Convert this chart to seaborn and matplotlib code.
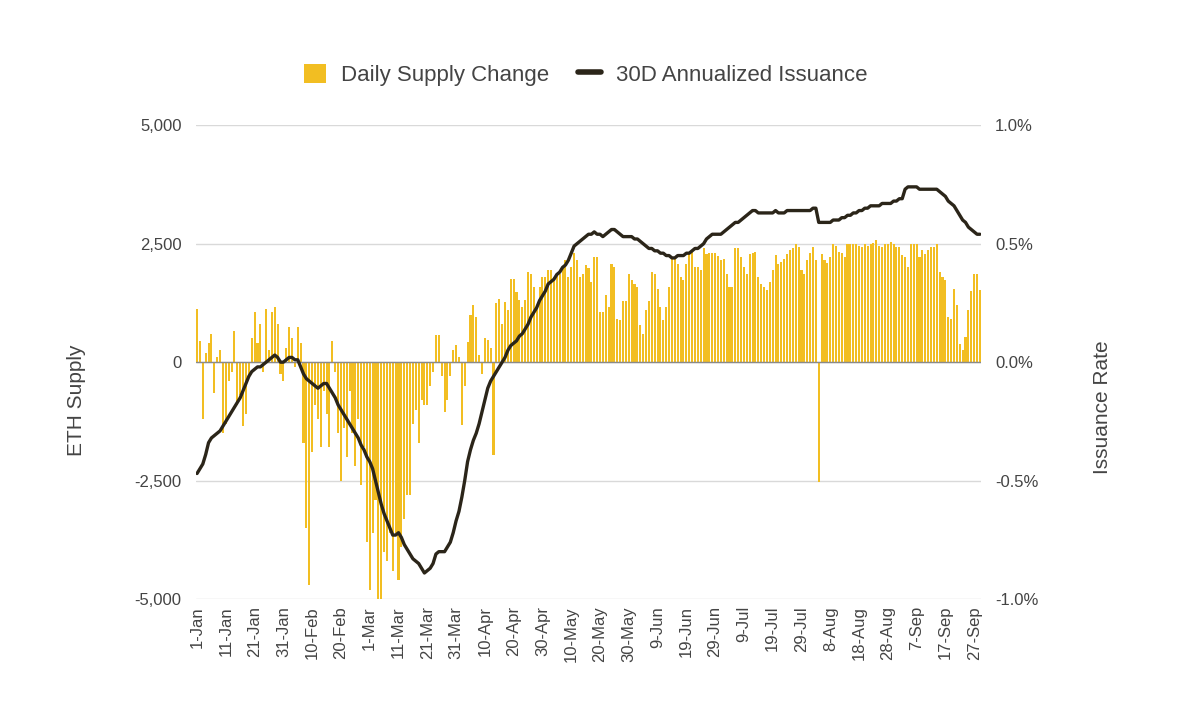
import pandas as pd
import numpy as np
import matplotlib
matplotlib.use("Agg")
import matplotlib.pyplot as plt
import seaborn as sns
from matplotlib.patches import Patch
from matplotlib.lines import Line2D

# daily net ETH supply change, 1-Jan .. 30-Sep 2024
supply = [
    1130, 450, -1200, 200, 400, 600, -650, 100, 250, -1500,
    -1300, -400, -200, 650, -900, -700, -1350, -1100, -300, 500,
    1050, 400, 800, -200, 1130, 250, 1050, 1170, 800, -250,
    -400, 300, 750, 500, -100, 750, 400, -1700, -3500, -4700,
    -1900, -900, -1200, -1800, -600, -1100, -1800, 450, -200, -1500,
    -2500, -1400, -2000, -600, -1500, -2200, -1200, -2600, -1800,
    -3800, -4800, -3600, -2900, -5000, -5000, -4000, -4200, -3600, -4400,
    -3600, -4600, -3900, -3300, -2800, -2800, -1300, -1000, -1700, -800,
    -900, -900, -500, -200, 570, 570, -300, -1050, -800, -300, 250,
    360, 100, -1330, -500, 430, 1000, 1200, 950, 150, -240,
    500, 460, 300, -1960, 1240, 1340, 815, 1270, 1100, 1765,
    1765, 1480, 1310, 1170, 1310, 1900, 1860, 1590, 1170, 1590,
    1800, 1800, 1940, 1940, 1800, 1830, 1870, 2010, 2150, 1800,
    2010, 2300, 2150, 1800, 1870, 2050, 1980, 1700, 2220, 2220,
    1060, 1060, 1410, 1170, 2080, 2010, 920, 880, 1300, 1300,
    1870, 1730, 1660, 1590, 780, 600, 1100, 1300, 1900, 1870,
    1550, 1170, 890, 1170, 1590, 2190, 2220, 2080, 1800, 1730,
    2080, 2290, 2320, 2010, 2010, 1940, 2400, 2290, 2300, 2300,
    2300, 2250, 2150, 2180, 1870, 1590, 1590, 2400, 2400, 2220,
    2010, 1870, 2290, 2300, 2320, 1800, 1660, 1590, 1520, 1700,
    1940, 2260, 2080, 2110, 2180, 2290, 2360, 2400, 2500, 2430,
    1940, 1870, 2150, 2300, 2430, 2150, -2520, 2290, 2150, 2100,
    2220, 2500, 2460, 2320, 2300, 2220, 2500, 2500, 2500, 2500,
    2460, 2430, 2500, 2460, 2500, 2520, 2570, 2460, 2430, 2500,
    2500, 2530, 2500, 2430, 2430, 2260, 2220, 2010, 2500, 2500,
    2500, 2220, 2360, 2290, 2360, 2430, 2430, 2500, 1900, 1790,
    1730, 960, 920, 1550, 1200, 390, 250, 530, 1100, 1500,
    1870, 1870, 1520,
]

# 30 day annualized issuance, in percent
issuance = [
    -0.47, -0.45, -0.43, -0.39, -0.34, -0.32, -0.31, -0.30, -0.29, -0.27,
    -0.25, -0.23, -0.21, -0.19, -0.17, -0.15, -0.12, -0.09, -0.06, -0.04,
    -0.03, -0.02, -0.02, -0.01, 0.00, 0.01, 0.02, 0.03, 0.02, 0.00,
    0.00, 0.01, 0.02, 0.02, 0.01, 0.01, -0.02, -0.05, -0.07, -0.08,
    -0.09, -0.10, -0.11, -0.10, -0.09, -0.09, -0.11, -0.13, -0.15, -0.18,
    -0.20, -0.22, -0.24, -0.26, -0.28, -0.30, -0.32, -0.35, -0.37, -0.40,
    -0.42, -0.45, -0.50, -0.55, -0.60, -0.64, -0.67, -0.70, -0.73, -0.73,
    -0.72, -0.74, -0.77, -0.79, -0.81, -0.83, -0.84, -0.85, -0.87, -0.89,
    -0.88, -0.87, -0.85, -0.81, -0.80, -0.80, -0.80, -0.78, -0.76, -0.72,
    -0.67, -0.63, -0.57, -0.50, -0.42, -0.37, -0.33, -0.30, -0.26, -0.21,
    -0.16, -0.11, -0.08, -0.06, -0.04, -0.02, 0.00, 0.02, 0.05, 0.07,
    0.08, 0.09, 0.11, 0.12, 0.14, 0.16, 0.19, 0.21, 0.23, 0.26,
    0.28, 0.30, 0.33, 0.34, 0.35, 0.37, 0.38, 0.40, 0.41, 0.43,
    0.46, 0.49, 0.50, 0.51, 0.52, 0.53, 0.54, 0.54, 0.55, 0.54,
    0.54, 0.53, 0.54, 0.55, 0.56, 0.56, 0.55, 0.54, 0.53, 0.53,
    0.53, 0.53, 0.52, 0.52, 0.51, 0.50, 0.49, 0.48, 0.48, 0.47,
    0.47, 0.46, 0.46, 0.45, 0.45, 0.44, 0.44, 0.45, 0.45, 0.45,
    0.46, 0.46, 0.47, 0.48, 0.48, 0.49, 0.50, 0.52, 0.53, 0.54,
    0.54, 0.54, 0.54, 0.55, 0.56, 0.57, 0.58, 0.59, 0.59, 0.60,
    0.61, 0.62, 0.63, 0.64, 0.64, 0.63, 0.63, 0.63, 0.63, 0.63,
    0.63, 0.64, 0.63, 0.63, 0.63, 0.64, 0.64, 0.64, 0.64, 0.64,
    0.64, 0.64, 0.64, 0.64, 0.65, 0.65, 0.59, 0.59, 0.59, 0.59,
    0.59, 0.60, 0.60, 0.60, 0.61, 0.61, 0.62, 0.62, 0.63, 0.63,
    0.64, 0.64, 0.65, 0.65, 0.66, 0.66, 0.66, 0.66, 0.67, 0.67,
    0.67, 0.67, 0.68, 0.68, 0.69, 0.69, 0.73, 0.74, 0.74, 0.74,
    0.74, 0.73, 0.73, 0.73, 0.73, 0.73, 0.73, 0.73, 0.72, 0.71,
    0.70, 0.68, 0.67, 0.66, 0.64, 0.62, 0.60, 0.59, 0.57, 0.56,
    0.55, 0.54, 0.54, 0.53,
]

n = min(len(supply), len(issuance))
dates = pd.date_range("2024-01-01", periods=n, freq="D")
df = pd.DataFrame({
    "day": np.arange(n),
    "supply": supply[:n],
    "rate": issuance[:n],
})

bar_color = "#F2BE22"
line_color = "#2B2519"
text_color = "#444444"

sns.set_theme(style="white")
plt.rcParams["font.family"] = ["Liberation Sans", "DejaVu Sans"]

fig = plt.figure(figsize=(12, 7.2), dpi=100)
ax = fig.add_axes([0.163, 0.168, 0.6548, 0.658])

sns.barplot(data=df, x="day", y="supply", native_scale=True, color=bar_color,
            saturation=1, width=0.72, errorbar=None, linewidth=0, ax=ax)

ax.set_ylim(-5000, 5000)
ax.set_yticks([-5000, -2500, 0, 2500, 5000])
ax.set_yticklabels(["-5,000", "-2,500", "0", "2,500", "5,000"])
ax.yaxis.grid(True, color="#d9d9d9", linewidth=1)
ax.set_axisbelow(True)
ax.axhline(0, color="#8a8a8a", linewidth=1, zorder=1.5)
ax.set_xlim(-0.5, n - 0.5)
ticks = list(range(0, n, 10))
ax.set_xticks(ticks)
ax.set_xticklabels([f"{dates[i].day}-{dates[i]:%b}" for i in ticks], rotation=90)
ax.set_xlabel("")
ax.set_ylabel("ETH Supply", fontsize=15, color=text_color)
ax.yaxis.set_label_coords(-0.14, 0.42)
ax.tick_params(axis="both", length=0, labelsize=12, labelcolor=text_color)
ax.tick_params(axis="y", pad=10)
ax.tick_params(axis="x", pad=5)
for s in ax.spines.values():
    s.set_visible(False)

ax2 = ax.twinx()
sns.lineplot(data=df, x="day", y="rate", color=line_color, linewidth=2.4, ax=ax2)
ax2.set_ylim(-1, 1)
ax2.set_yticks([-1, -0.5, 0, 0.5, 1])
ax2.set_yticklabels(["-1.0%", "-0.5%", "0.0%", "0.5%", "1.0%"])
ax2.set_ylabel("Issuance Rate", fontsize=15, color=text_color)
ax2.yaxis.set_label_coords(1.142, 0.405)
ax2.tick_params(axis="y", length=0, labelsize=12, labelcolor=text_color, pad=10)
ax2.set_xlim(-0.5, n - 0.5)
for s in ax2.spines.values():
    s.set_visible(False)

handles = [Patch(facecolor=bar_color, edgecolor="none", label="Daily Supply Change"),
           Line2D([0], [0], color=line_color, linewidth=4, label="30D Annualized Issuance")]
fig.legend(handles=handles, loc="center", bbox_to_anchor=(0.488, 0.896), ncol=2,
           frameon=False, fontsize=16, handlelength=1.0, handleheight=1.0,
           columnspacing=1.3, handletextpad=0.7, labelcolor=text_color)

fig.savefig("out.png", dpi=100)
